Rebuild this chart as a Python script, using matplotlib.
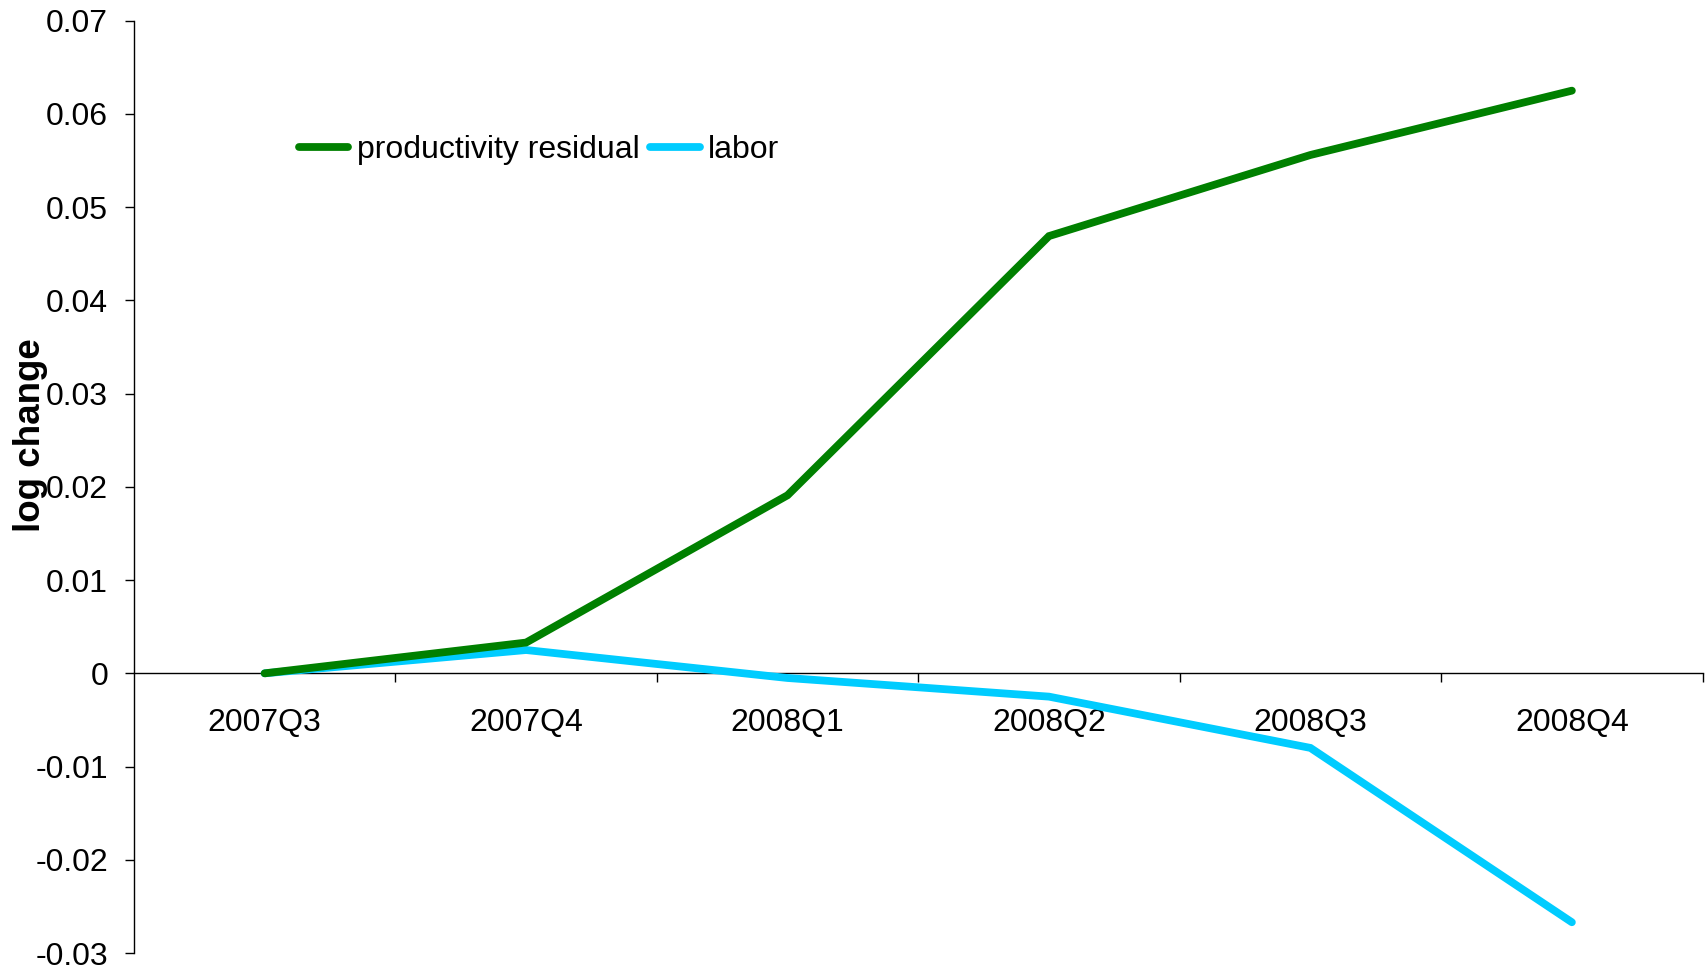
import matplotlib
matplotlib.use("Agg")
import matplotlib.pyplot as plt
import numpy as np

categories = ["2007Q3", "2007Q4", "2008Q1", "2008Q2", "2008Q3", "2008Q4"]
productivity_residual = [0.0, 0.0033, 0.0191, 0.0469, 0.0556, 0.0625]
labor = [0.0, 0.0025, -0.0005, -0.0025, -0.0080, -0.0267]
y_ticks = [-0.03, -0.02, -0.01, 0, 0.01, 0.02, 0.03, 0.04, 0.05, 0.06, 0.07]
y_tick_labels = ["-0.03", "-0.02", "-0.01", "0", "0.01", "0.02", "0.03", "0.04", "0.05", "0.06", "0.07"]

plt.rcParams['font.family'] = ['Liberation Sans', 'DejaVu Sans']

fig = plt.figure(figsize=(17.06, 9.69), dpi=100)
ax = fig.add_axes([0.0785, 0.0165, 0.998 - 0.0785, 0.9786 - 0.0165])

x = np.arange(len(categories))
ax.plot(x, labor, color="#00CCFF", lw=5.6, solid_capstyle="round", solid_joinstyle="miter", label="labor", zorder=3)
ax.plot(x, productivity_residual, color="#008000", lw=5.6, solid_capstyle="round", solid_joinstyle="miter",
        label="productivity residual", zorder=4)

ax.set_xlim(-0.5, len(categories) - 0.5)
ax.set_ylim(-0.03, 0.07)

ax.spines['top'].set_visible(False)
ax.spines['right'].set_visible(False)
ax.spines['bottom'].set_position(('data', 0))
ax.spines['left'].set_linewidth(1.0)
ax.spines['bottom'].set_linewidth(1.0)

ax.set_yticks(y_ticks)
ax.set_yticklabels(y_tick_labels)
ax.tick_params(axis='y', direction='out', length=6.5, width=1.0, pad=12, labelsize=23)

ax.set_xticks(np.arange(0.5, len(categories), 1.0))
ax.set_xticklabels([])
ax.set_xticks(x, minor=True)
ax.set_xticklabels(categories, minor=True)
ax.tick_params(axis='x', which='major', direction='out', length=6.5, width=1.0)
ax.tick_params(axis='x', which='minor', length=0, pad=25, labelsize=23)

fig.text(31 / 1706, 1 - 435 / 969, "log change", rotation=90, fontsize=26.5, fontweight='bold',
         ha='center', va='center')

handles, labels = ax.get_legend_handles_labels()
ax.legend(handles[::-1], labels[::-1], loc='upper left', bbox_to_anchor=(0.097, 0.891), ncol=2, frameon=False,
          fontsize=23, handlelength=1.55, handletextpad=0.26, columnspacing=0.34, borderaxespad=0)

fig.savefig("out.png", dpi=100)
